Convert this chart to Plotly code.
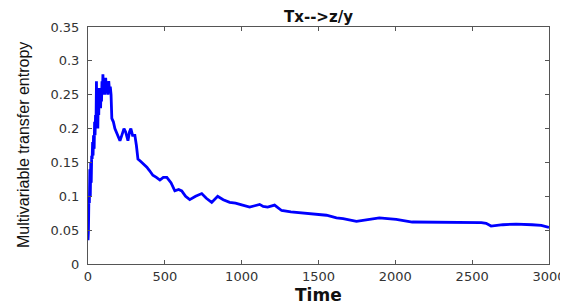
import plotly.graph_objects as go

time = [0, 3, 6, 9, 12, 15, 18, 21, 24, 27, 30, 33, 36, 40, 43, 46, 49, 52, 55,
        58, 61, 64, 67, 70, 73, 76, 79, 82, 85, 88, 91, 94, 97, 101, 105, 110,
        115, 120, 125, 130, 135, 140, 145, 150, 155, 165, 175, 188, 200, 208, 220,
        234, 245, 260, 270, 279, 290, 305, 315, 325, 340, 360, 383, 400, 422, 445,
        468, 490, 513, 540, 565, 590, 610, 635, 662, 700, 740, 770, 805, 844, 880,
        922, 960, 1006, 1052, 1085, 1117, 1140, 1169, 1214, 1260, 1320, 1377, 1440,
        1506, 1552, 1617, 1660, 1747, 1800, 1896, 1950, 2006, 2110, 2200, 2350,
        2500, 2560, 2591, 2623, 2700, 2786, 2890, 2950, 3000]
entropy = [0.035, 0.05, 0.1, 0.09, 0.14, 0.1, 0.15, 0.12, 0.16, 0.155, 0.18, 0.16,
           0.19, 0.17, 0.21, 0.19, 0.22, 0.2, 0.27, 0.21, 0.26, 0.2, 0.25, 0.22,
           0.26, 0.24, 0.25, 0.23, 0.26, 0.24, 0.27, 0.25, 0.28, 0.255, 0.27, 0.25,
           0.275, 0.255, 0.265, 0.25, 0.27, 0.255, 0.262, 0.25, 0.215, 0.21, 0.2,
           0.192, 0.185, 0.182, 0.19, 0.2, 0.195, 0.182, 0.195, 0.2, 0.19, 0.19,
           0.175, 0.155, 0.152, 0.148, 0.143, 0.138, 0.131, 0.128, 0.124, 0.128,
           0.128, 0.12, 0.108, 0.11, 0.108, 0.1, 0.095, 0.1, 0.104, 0.097, 0.091,
           0.1, 0.095, 0.091, 0.09, 0.087, 0.084, 0.086, 0.088, 0.085, 0.084, 0.087,
           0.079, 0.077, 0.076, 0.075, 0.073, 0.072, 0.068, 0.067, 0.063, 0.065,
           0.068, 0.067, 0.066, 0.062, 0.062, 0.061, 0.062, 0.061, 0.06, 0.056,
           0.058, 0.059, 0.058, 0.057, 0.054]

x_ticks = [0, 500, 1000, 1500, 2000, 2500, 3000]
y_ticks = [0, 0.05, 0.1, 0.15, 0.2, 0.25, 0.3, 0.35]
y_tick_labels = ["0", "0.05", "0.1", "0.15", "0.2", "0.25", "0.3", "0.35"]

fig = go.Figure()
fig.add_trace(go.Scatter(x=time, y=entropy, mode="lines",
                         line=dict(color="#0000ff", width=2.8)))

axis_common = dict(showline=True, mirror="ticks", linecolor="#555", linewidth=1,
                   ticks="inside", ticklen=4, tickcolor="#555", showgrid=False,
                   zeroline=False, automargin=False,
                   tickfont=dict(family="DejaVu Sans", size=13, color="#333"))

fig.update_xaxes(range=[0, 3000], tickvals=x_ticks, **axis_common)
fig.update_yaxes(range=[0, 0.35], tickvals=y_ticks, ticktext=y_tick_labels,
                 ticklabelstandoff=5, **axis_common)

# page body has an 8px margin, so the figure is sized/offset to fit the window
fig.update_layout(
    width=560, height=297,
    margin=dict(l=80, r=19, t=19, b=41, autoexpand=False),
    paper_bgcolor="white", plot_bgcolor="white",
    showlegend=False,
    annotations=[
        dict(text="<b>Tx-->z/y</b>", x=0.5, y=1.0, xref="paper", yref="paper",
             yanchor="bottom", yshift=-1, showarrow=False,
             font=dict(family="DejaVu Sans", size=15, color="#111")),
        dict(text="<b>Time</b>", x=0.5, y=-0.08, xref="paper", yref="paper",
             yanchor="top", showarrow=False,
             font=dict(family="DejaVu Sans", size=17, color="#111")),
        dict(text="Multivariable transfer entropy", x=-0.141, y=0.502,
             xref="paper", yref="paper", xanchor="center", yanchor="middle",
             textangle=-90, showarrow=False,
             font=dict(family="Liberation Sans", size=16, color="#111")),
    ],
)
fig.write_html("out.html")
